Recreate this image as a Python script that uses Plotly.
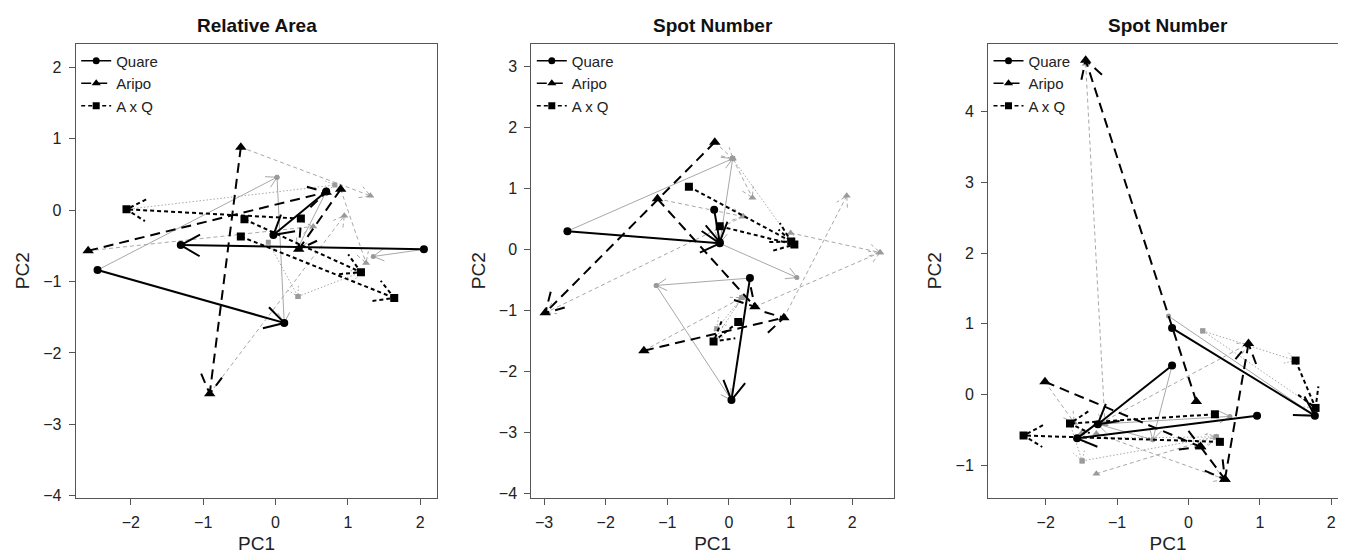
import math
import plotly.graph_objects as go

# ---------------- data (PC1, PC2 start -> end of each arrow) ----------------
TITLES = ["Relative Area", "Spot Number", "Spot Number"]
POPS = ["Quare", "Aripo", "A x Q"]

# Panel 1 - Relative Area
P1_QUARE_BLACK = [(2.05, -0.55, -1.31, -0.49), (-2.46, -0.84, 0.12, -1.58), (0.70, 0.26, -0.03, -0.35)]
P1_ARIPO_BLACK = [(-0.48, 0.88, -0.91, -2.57), (-2.59, -0.57, 0.70, 0.25), (0.90, 0.29, 0.32, -0.55)]
P1_AXQ_BLACK = [(0.35, -0.12, -2.06, 0.01), (-0.48, -0.37, 1.64, -1.23), (-0.43, -0.13, 1.18, -0.87)]
P1_QUARE_GRAY = [(-2.46, -0.84, 0.02, 0.46), (0.02, 0.46, 0.12, -1.58), (2.05, -0.55, 1.35, -0.65), (0.70, 0.26, 0.30, -0.55)]
P1_ARIPO_GRAY = [(-0.48, 0.88, 1.31, 0.20), (-0.91, -2.57, 0.95, -0.08), (-2.59, -0.57, 0.52, -0.23), (0.90, 0.29, 1.25, -0.74)]
P1_AXQ_GRAY = [(-2.06, 0.01, 0.82, 0.35), (0.31, -1.21, 1.18, -0.87), (-0.10, -0.45, 0.31, -1.21)]

# Panel 2 - Spot Number
P2_QUARE_BLACK = [(-2.62, 0.30, -0.15, 0.10), (0.34, -0.47, 0.04, -2.47), (-0.24, 0.65, -0.15, 0.12)]
P2_ARIPO_BLACK = [(-0.23, 1.76, -2.98, -1.04), (-1.16, 0.83, 0.42, -0.94), (-1.38, -1.66, 0.89, -1.12)]
P2_AXQ_BLACK = [(-0.65, 1.03, 1.01, 0.13), (-0.15, 0.38, 1.06, 0.08), (0.15, -1.19, -0.25, -1.51)]
P2_QUARE_GRAY = [(-2.62, 0.30, 0.06, 1.49), (0.06, 1.49, -0.15, 0.10), (-0.15, 0.10, 1.10, -0.46),
                 (0.34, -0.47, -1.18, -0.59), (-1.18, -0.59, 0.04, -2.47)]
P2_ARIPO_GRAY = [(-0.23, 1.76, 0.06, 1.49), (0.06, 1.49, 0.38, 0.85), (-1.16, 0.83, 0.23, 0.54),
                 (0.23, 0.54, -2.98, -1.04), (-1.38, -1.66, 0.21, -0.79), (0.42, -0.94, 2.45, -0.05),
                 (0.89, -1.12, 1.91, 0.88), (1.00, 0.27, 2.45, -0.05)]
P2_AXQ_GRAY = [(0.06, 1.49, 1.06, 0.08), (0.21, -0.79, -0.25, -1.51), (0.21, -0.79, -0.20, -1.30)]

# Panel 3 - Spot Number
P3_QUARE_BLACK = [(-0.23, 0.94, 1.77, -0.30), (0.96, -0.30, -1.56, -0.62), (-0.23, 0.41, -1.27, -0.42)]
P3_ARIPO_BLACK = [(0.11, -0.10, -1.44, 4.73), (-2.01, 0.18, 0.17, -0.74), (0.17, -0.74, 0.51, -1.20), (0.51, -1.20, 0.84, 0.72)]
P3_AXQ_BLACK = [(0.44, -0.67, -2.31, -0.58), (0.37, -0.28, -1.66, -0.41), (1.50, 0.48, 1.78, -0.19)]
P3_QUARE_GRAY = [(-0.28, 1.11, 1.77, -0.30), (-0.23, 0.41, -0.50, -0.64), (-0.50, -0.64, -1.27, -0.42), (-1.27, -0.42, 0.58, -0.31)]
P3_ARIPO_GRAY = [(-1.44, 4.68, -1.17, -0.42), (-2.01, 0.18, -1.60, -0.40), (-1.29, -1.12, 0.39, -0.60),
                 (-1.50, -0.55, 0.84, 0.72), (-1.29, -0.55, 0.51, -1.20)]
P3_AXQ_GRAY = [(0.20, 0.90, 1.50, 0.48), (0.20, 0.90, 1.78, -0.19), (-1.66, -0.41, -1.49, -0.94),
               (-1.49, -0.94, 0.39, -0.60), (0.39, -0.60, -1.56, -0.62)]

PANEL_DATA = [
    {"black": [P1_QUARE_BLACK, P1_ARIPO_BLACK, P1_AXQ_BLACK], "gray": [P1_QUARE_GRAY, P1_ARIPO_GRAY, P1_AXQ_GRAY]},
    {"black": [P2_QUARE_BLACK, P2_ARIPO_BLACK, P2_AXQ_BLACK], "gray": [P2_QUARE_GRAY, P2_ARIPO_GRAY, P2_AXQ_GRAY]},
    {"black": [P3_QUARE_BLACK, P3_ARIPO_BLACK, P3_AXQ_BLACK], "gray": [P3_QUARE_GRAY, P3_ARIPO_GRAY, P3_AXQ_GRAY]},
]

X_TICKS = [[-2, -1, 0, 1, 2], [-3, -2, -1, 0, 1, 2], [-2, -1, 0, 1, 2]]
Y_TICKS = [[-4, -3, -2, -1, 0, 1, 2], [-4, -3, -2, -1, 0, 1, 2, 3], [-1, 0, 1, 2, 3, 4]]

# ---------------- layout / style ----------------
W, H = 1346, 552
FRAMES_X = [(67.7, 429.3), (523.3, 886.0), (980.0, 1340.0)]   # pixel frame edges
FRAME_Y = (36.0, 495.3)
X_RANGES = [(-2.762, 2.235), (-3.206, 2.676), (-2.808, 2.234)]
Y_RANGES = [(-4.03, 2.33), (-4.075, 3.376), (-1.463, 4.964)]

SYMBOLS = ["circle", "triangle-up", "square"]
BLACK_SIZES = [8, 10, 8]
GRAY_SIZES = [5, 7, 5]
BLACK_DASH = ["solid", "10px,6px", "4px,3px"]
GRAY_DASH = ["solid", "4px,3px", "1.5px,2px"]
FONT = "Liberation Sans, Arial, sans-serif"

fig = go.Figure()


def arrow_head(x0, y0, x1, y1, sx, sy, L, ang=math.radians(30)):
    dxp, dyp = (x0 - x1) * sx, (y0 - y1) * sy
    n = math.hypot(dxp, dyp)
    if n == 0:
        return [None], [None]
    ux, uy = dxp / n, dyp / n
    xs, ys = [], []
    for s in (1, -1):
        c, si = math.cos(ang), math.sin(s * ang)
        rx, ry = ux * c - uy * si, ux * si + uy * c
        xs.append(x1 + rx * L / sx)
        ys.append(y1 + ry * L / sy)
    return [xs[0], x1, xs[1], None], [ys[0], y1, ys[1], None]


for p in range(3):
    xa = "x" if p == 0 else f"x{p+1}"
    ya = "y" if p == 0 else f"y{p+1}"
    fx0, fx1 = FRAMES_X[p]
    sx = (fx1 - fx0) / (X_RANGES[p][1] - X_RANGES[p][0])
    sy = (FRAME_Y[1] - FRAME_Y[0]) / (Y_RANGES[p][1] - Y_RANGES[p][0])
    for shade in ["gray", "black"]:
        for k, arrows in enumerate(PANEL_DATA[p][shade]):
            if shade == "black":
                col, lw, dash, L, msize, mcol = "#000000", 2, BLACK_DASH[k], 22, BLACK_SIZES[k], "#000000"
            else:
                col, lw, dash, L, msize, mcol = "#a8a8a8", 1, GRAY_DASH[k], 12, GRAY_SIZES[k], "#9a9a9a"
            lx, ly, hx, hy, mx, my = [], [], [], [], [], []
            for (x0, y0, x1, y1) in arrows:
                lx += [x0, x1, None]
                ly += [y0, y1, None]
                ax_, ay_ = arrow_head(x0, y0, x1, y1, sx, sy, L)
                hx += ax_
                hy += ay_
                mx += [x0, x1]
                my += [y0, y1]
            fig.add_trace(go.Scatter(x=lx, y=ly, mode="lines", xaxis=xa, yaxis=ya, showlegend=False,
                                     hoverinfo="skip", line=dict(color=col, width=lw, dash=dash)))
            fig.add_trace(go.Scatter(x=hx, y=hy, mode="lines", xaxis=xa, yaxis=ya, showlegend=False,
                                     hoverinfo="skip", line=dict(color=col, width=lw, dash=dash)))
            fig.add_trace(go.Scatter(x=mx, y=my, mode="markers", xaxis=xa, yaxis=ya, showlegend=False,
                                     marker=dict(symbol=SYMBOLS[k], size=msize, color=mcol, line=dict(width=0))))
    # legend entries
    lg = "legend" if p == 0 else f"legend{p+1}"
    for k, name in enumerate(POPS):
        fig.add_trace(go.Scatter(x=[None], y=[None], mode="lines+markers", name=name, xaxis=xa, yaxis=ya,
                                 legend=lg, line=dict(color="#000000", width=1.5, dash=BLACK_DASH[k] if k else "solid"),
                                 marker=dict(symbol=SYMBOLS[k], size=8 if k == 1 else 7, color="#000000")))

layout = dict(width=W, height=H, margin=dict(l=0, r=0, t=0, b=0), plot_bgcolor="white", paper_bgcolor="white",
              font=dict(family=FONT, color="#222222"), annotations=[])

for p in range(3):
    fx0, fx1 = FRAMES_X[p]
    sfx = "" if p == 0 else str(p + 1)
    axis_common = dict(showline=True, mirror=True, linecolor="#555555", linewidth=1, ticks="outside",
                       ticklen=6, tickcolor="#555555", showgrid=False, zeroline=False,
                       tickfont=dict(size=16, family=FONT, color="#222222"), ticklabelstandoff=4)
    layout["xaxis" + sfx] = dict(axis_common, domain=[fx0 / W, fx1 / W], range=list(X_RANGES[p]),
                                 tickvals=X_TICKS[p], anchor="y" + sfx,
                                 title=dict(text="PC1", font=dict(size=19, family=FONT, color="#222222"), standoff=6))
    layout["yaxis" + sfx] = dict(axis_common, domain=[1 - FRAME_Y[1] / H, 1 - FRAME_Y[0] / H],
                                 range=list(Y_RANGES[p]), tickvals=Y_TICKS[p], anchor="x" + sfx,
                                 title=dict(text="PC2", font=dict(size=19, family=FONT, color="#222222"), standoff=8))
    layout["legend" + sfx] = dict(x=(fx0 + 0.5) / W, y=1 - (FRAME_Y[0] + 1) / H, xanchor="left", yanchor="top",
                                  bgcolor="rgba(0,0,0,0)", font=dict(size=15, family=FONT, color="#222222"),
                                  tracegroupgap=0, itemwidth=30)
    layout["annotations"].append(dict(text="<b>" + TITLES[p] + "</b>", x=(fx0 + fx1) / 2 / W, y=1 - 17.5 / H,
                                      xref="paper", yref="paper", showarrow=False, xanchor="center", yanchor="middle",
                                      font=dict(size=19, family=FONT, color="#111111")))

fig.update_layout(**layout)
fig.write_html("out.html")
